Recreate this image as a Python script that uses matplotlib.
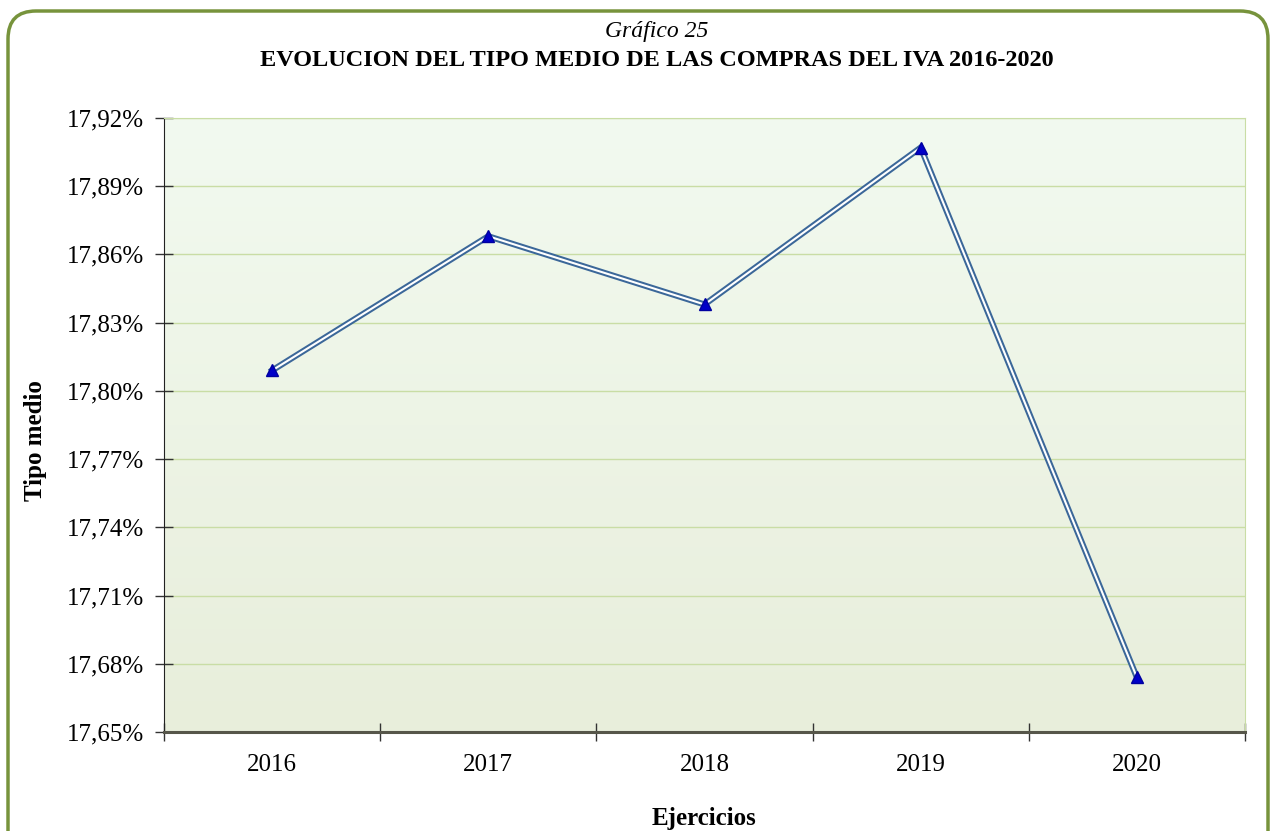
import matplotlib

matplotlib.use("Agg")
import matplotlib.pyplot as plt
import numpy as np
from matplotlib.patches import FancyBboxPatch
from matplotlib.ticker import FixedLocator, FuncFormatter

years = ["2016", "2017", "2018", "2019", "2020"]
tipo_medio = [17.809, 17.868, 17.838, 17.907, 17.674]
y_ticks = [17.65, 17.68, 17.71, 17.74, 17.77, 17.80, 17.83, 17.86, 17.89, 17.92]

plt.rcParams["font.family"] = ["Liberation Serif", "DejaVu Serif"]

fig = plt.figure(figsize=(12.73, 8.31), dpi=100)

# rounded green frame around the whole chart
frame = FancyBboxPatch(
    (0.08, -0.4), 12.6, 8.6,
    boxstyle="round,pad=0,rounding_size=0.28",
    transform=fig.dpi_scale_trans,
    facecolor="none", edgecolor="#77933C", linewidth=2.5, zorder=10,
)
fig.patches.append(frame)

ax = fig.add_axes([164 / 1273, 1 - 732 / 831, 1081 / 1273, 614 / 831])
ax.set_facecolor("none")

# vertical gradient background of the plot area
grad = np.linspace(0, 1, 256).reshape(-1, 1)
top_c = np.array([0xF2, 0xFA, 0xF0]) / 255
bot_c = np.array([0xE8, 0xEE, 0xDB]) / 255
img = top_c * (1 - grad[..., None]) + bot_c * grad[..., None]
ax.imshow(img, extent=[-0.5, 4.5, y_ticks[0], y_ticks[-1]], aspect="auto",
          origin="upper", zorder=0)

x = np.arange(len(years))
ax.plot(x, tipo_medio, color="#3B6799", linewidth=4.4, zorder=3, solid_joinstyle="miter")
ax.plot(x, tipo_medio, color="white", linewidth=1.5, zorder=4, solid_joinstyle="miter")
ax.plot(x, tipo_medio, linestyle="none", marker="^", markersize=8.5,
        markerfacecolor="#0000C8", markeredgecolor="#0000A0", zorder=5)

ax.set_xlim(-0.5, 4.5)
ax.set_ylim(y_ticks[0], y_ticks[-1])
ax.yaxis.set_major_locator(FixedLocator(y_ticks))
ax.yaxis.set_major_formatter(FuncFormatter(lambda v, p: f"{v:.2f}%".replace(".", ",")))
ax.set_xticks(x)
ax.set_xticklabels(years)
ax.set_xticks(np.arange(-0.5, 5.0, 1.0), minor=True)
ax.tick_params(axis="x", which="major", length=0, labelsize=18, pad=16)
ax.tick_params(axis="x", which="minor", direction="inout", length=13, width=1, color="#333333")
ax.tick_params(axis="y", direction="inout", length=13, width=1, labelsize=18, pad=8, color="#333333")

ax.grid(axis="y", color="#C9DDA5", linewidth=1, zorder=1)
for gl in ax.get_ygridlines():
    gl.set_zorder(1)

ax.spines["left"].set_color("#222222")
ax.spines["bottom"].set_color("#56564A")
ax.spines["bottom"].set_linewidth(2.2)
ax.spines["top"].set_color("#C9DDA5")
ax.spines["right"].set_color("#C9DDA5")

ax.set_ylabel("Tipo medio", fontsize=18, fontweight="bold", labelpad=14)
ax.yaxis.label.set_y(0.5 - 16 / 614)
ax.set_xlabel("Ejercicios", fontsize=18, fontweight="bold", labelpad=22)

fig.text(0.5 + 20 / 1273, 1 - 32 / 831, "Gráfico 25", ha="center", va="center",
         fontsize=17, style="italic")
fig.text(0.5 + 20 / 1273, 1 - 60 / 831, "EVOLUCION DEL TIPO MEDIO DE LAS COMPRAS DEL IVA 2016-2020",
         ha="center", va="center", fontsize=17.5, fontweight="bold")

fig.savefig("out.png", dpi=100)
plt.close(fig)
